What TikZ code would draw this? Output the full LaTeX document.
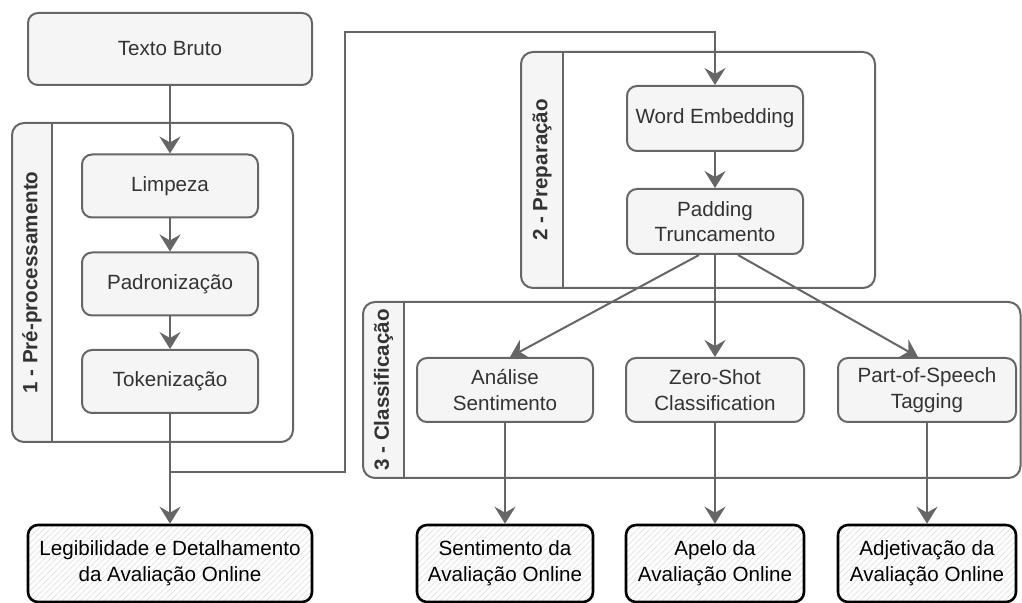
\documentclass[tikz,border=0pt]{standalone}
\usepackage{fontspec}
\setmainfont{Liberation Sans}
\usetikzlibrary{arrows.meta,patterns,calc}
\definecolor{boxGray}{RGB}{245,245,245}
\definecolor{lineGray}{RGB}{102,102,102}
\definecolor{textGray}{RGB}{51,51,51}

\begin{document}
\begin{tikzpicture}[x=0.5pt, y=-0.5pt, line width=1pt,
    font=\fontsize{10.3}{12.8}\selectfont,
    >={Stealth[length=8.5pt, width=10.5pt, inset=3pt]},
    etapa/.style={draw=lineGray, fill=boxGray, text=textGray, rounded corners=5pt,
        minimum width=88pt, minimum height=31.5pt, align=center, inner sep=1pt},
    saida/.style={draw=black, line width=1.3pt, rounded corners=5pt,
        pattern=north east lines, pattern color=black!10,
        minimum width=88pt, minimum height=38.5pt, align=center, inner sep=1pt},
    seta/.style={draw=lineGray, ->}]
    \useasboundingbox (0,0) rectangle (1022,603);

    % grupos com faixa de titulo vertical
    \foreach \xa/\ya/\xb/\yb/\xf/\n/\titulo in {
        12/123/293/442/52/g1/{1 - Pré-processamento},
        521/52/875/288/563/g2/{2 - Preparação},
        363/302/1020.5/478/404/g3/{3 - Classificação}} {
        \begin{scope}
            \clip[rounded corners=6pt] (\xa,\ya) rectangle (\xb,\yb);
            \fill[boxGray] (\xa,\ya) rectangle (\xf,\yb);
        \end{scope}
        \draw[lineGray, rounded corners=6pt] (\xa,\ya) rectangle (\xb,\yb);
        \draw[lineGray] (\xf,\ya) -- (\xf,\yb);
        \node[rotate=90, text=textGray, font=\fontsize{10.3}{12.8}\selectfont\bfseries]
            (\n) at ({(\xa+\xf)/2},{(\ya+\yb)/2}) {\titulo};
    }

    % etapas
    \node[etapa, minimum width=142pt, minimum height=36pt] (bruto) at (170,49) {Texto Bruto};
    \node[etapa] (limpeza) at (170,186) {Limpeza};
    \node[etapa] (padron) at (170,284) {Padronização};
    \node[etapa] (tokeniz) at (170,381.5) {Tokenização};
    \node[etapa, minimum height=32.5pt] (embed) at (715,118.5) {Word Embedding};
    \node[etapa, minimum height=32.5pt] (padding) at (715,221.5) {Padding\\Truncamento};
    \node[etapa, minimum height=32pt] (analise) at (505,390) {Análise\\Sentimento};
    \node[etapa, minimum width=89pt, minimum height=32pt] (zero) at (715,390) {Zero-Shot\\Classification};
    \node[etapa, minimum width=89pt, minimum height=32pt] (pos) at (927,390) {Part-of-Speech\\Tagging};

    % resultados
    \node[saida, minimum width=142pt] (legib) at (170,563.5) {Legibilidade e Detalhamento\\da Avaliação Online};
    \node[saida] (sentim) at (505,563.5) {Sentimento da\\Avaliação Online};
    \node[saida, minimum width=89pt] (apelo) at (715,563.5) {Apelo da\\Avaliação Online};
    \node[saida, minimum width=89pt] (adjet) at (927,563.5) {Adjetivação da\\Avaliação Online};

    % ligacoes
    \draw[seta] (bruto) -- (limpeza);
    \draw[seta] (limpeza) -- (padron);
    \draw[seta] (padron) -- (tokeniz);
    \draw[seta] (tokeniz) -- (legib);
    \coordinate (juncao) at (170,472);
    \coordinate (desvio) at (345,32);
    \draw[seta] (juncao) -| (desvio) -| (embed.north);
    \draw[seta] (embed) -- (padding);
    \draw[seta] ($(padding.south)+(-16,0)$) -- ($(analise.north)+(5,0)$);
    \draw[seta] (padding) -- (zero);
    \draw[seta] ($(padding.south)+(23,0)$) -- ($(pos.north)+(-9,0)$);
    \draw[seta] (analise) -- (sentim);
    \draw[seta] (zero) -- (apelo);
    \draw[seta] (pos) -- (adjet);
\end{tikzpicture}
\end{document}
